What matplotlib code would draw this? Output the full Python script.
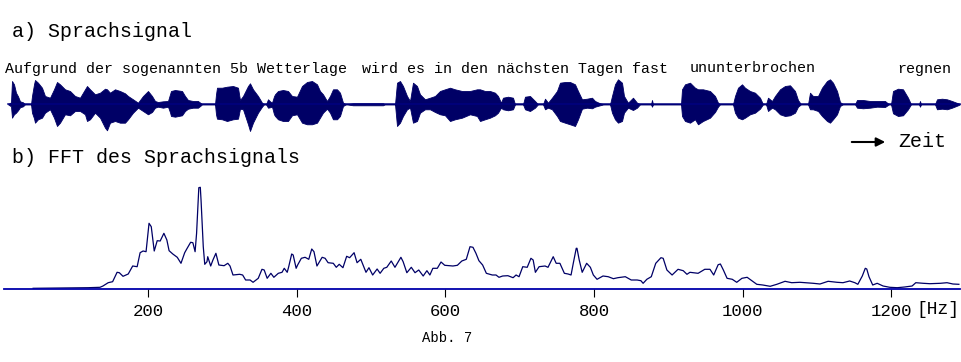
import matplotlib
matplotlib.use("Agg")
import matplotlib.pyplot as plt

# ---------------- data ----------------
# a) speech signal envelope (time in arbitrary units, amplitude upper / lower)
wave_t = [8, 11, 12, 14, 16, 18, 20, 23, 25, 31, 32, 34, 35, 38, 42, 45, 50, 54, 57, 60,
          65, 70, 75, 80, 85, 87, 90, 95, 100, 105, 107, 110, 115, 120, 125, 128, 133, 138, 143, 148,
          152, 155, 158, 163, 168, 170, 171, 175, 182, 185, 188, 193, 198, 201, 202, 215, 216, 217, 222, 227,
          233, 238, 240, 243, 248, 250, 253, 258, 262, 264, 266, 268, 270, 272, 274, 275, 278, 283, 288, 292,
          297, 302, 307, 312, 317, 320, 323, 327, 330, 333, 337, 340, 343, 346, 353, 383, 385, 395, 397, 400,
          403, 407, 410, 413, 417, 420, 425, 430, 435, 440, 445, 450, 455, 462, 470, 477, 480, 485, 490, 495,
          498, 501, 503, 508, 513, 515, 523, 525, 530, 535, 538, 543, 545, 548, 552, 557, 560, 565, 570, 575,
          578, 582, 587, 592, 595, 600, 604, 610, 612, 615, 618, 622, 624, 628, 633, 637, 640, 651, 652, 653,
          681, 682, 685, 690, 695, 698, 703, 710, 715, 718, 720, 733, 735, 738, 742, 745, 750, 755, 760, 763,
          766, 768, 772, 775, 780, 785, 790, 795, 798, 801, 808, 810, 813, 818, 822, 827, 830, 833, 837, 840,
          843, 855, 857, 863, 870, 877, 885, 889, 891, 893, 898, 903, 908, 911, 919, 920, 921, 935, 937, 942,
          947, 952, 958, 960]
wave_hi = [0, 2, 23.3, 20, 11.6, 8, 3, 2, 0, 0, 8.3, 20, 24.3, 21.6, 16.6, 8.3, 6.6, 15.0, 22.3, 20.0,
           15.0, 13.3, 8.3, 6.6, 15.0, 18.3, 15.0, 10.0, 11.6, 15.6, 15.0, 11.6, 15.0, 13.3, 11.0, 8.3, 5.0, 1.6, 8.3, 13.3,
           8.3, 3.3, 2.3, 3.0, 3.3, 10, 13.3, 14.3, 13.3, 8.3, 4.3, 3.3, 3.3, 1, 0, 0, 10, 16.6, 16.6, 17.6,
           18.3, 16.6, 4.3, 8.3, 18.3, 21.0, 15.0, 8.3, 1.6, 0, 0, 5.0, 3, 1.6, 8, 10.0, 13.3, 14.3, 13.3, 8.3,
           7.6, 18.3, 22.3, 23.3, 20.0, 13.3, 10.0, 3.3, 8.3, 15.0, 15.0, 11.6, 1.6, 0, 1.0, 1.0, 0, 0, 21.6, 23.3,
           18.3, 8.3, 3.3, 21.6, 18.3, 10.0, 5.0, 6.6, 8.3, 13.3, 15.0, 16.6, 15.0, 13.3, 13.3, 15.0, 15.0, 13.3, 13.3, 11.6,
           8.3, 1.6, 6.6, 7.6, 6.6, 0, 0, 7.6, 8.3, 3.3, 0, 0, 5.6, 1.6, 6.6, 13.3, 21.6, 22.3, 22.3, 20.0,
           13.3, 5.0, 5.6, 6.6, 3.3, 1.0, 0, 0, 8.3, 20.0, 25.0, 21.6, 8.3, 1.6, 6.6, 1.6, 0, 0, 4.3, 0,
           0, 15.0, 20.0, 21.6, 16.6, 15.0, 15.0, 13.3, 8.3, 1.6, 0, 0, 8.3, 16.6, 20.0, 16.6, 13.3, 11.6, 6.6, 0,
           0, 6.6, 3.3, 8.3, 15.0, 18.3, 19.0, 13.3, 4.3, 0, 0, 11.6, 8.3, 8.3, 16.6, 23.3, 25.0, 21.6, 13.3, 2.3,
           0, 0, 4.3, 4.3, 3.3, 3.3, 3.3, 0, 0, 13.3, 15.6, 15.0, 6.6, 0, 0, 3.3, 0, 0, 5.0, 5.6,
           5.0, 3.3, 1.0, 0]
wave_lo = [0, -2, -13.4, -10, -8.4, -6, -3, -2, 0, 0, -8.4, -14, -18.4, -15.0, -13.4, -8.4, -5.0, -13.4, -21.7, -18.4,
           -10.0, -11.0, -6.7, -6.7, -10.0, -16.7, -15.0, -8.4, -13.4, -23.4, -26.0, -18.4, -16.7, -18.4, -18.4, -15.0, -8.4, -3.4, -6.7, -10.0,
           -7.7, -3.4, -2.4, -3.4, -2.4, -8, -11.7, -12.4, -11.0, -6.7, -4.4, -3.4, -3.4, -1, 0, 0, -10, -14.4, -15.0, -16.7,
           -15.0, -14.4, -4.4, -5.0, -20.0, -26.7, -18.4, -8.4, -2.4, 0, 0, -3.4, -3, -2.4, -10, -11.7, -15.0, -16.7, -16.7, -11.0,
           -10.0, -18.4, -20.0, -20.0, -18.4, -13.4, -8.4, -4.4, -8.4, -15.0, -15.0, -11.7, -1.7, 0, -1.0, -1.0, 0, 0, -21.7, -18.4,
           -11.7, -5.0, -3.4, -18.4, -16.7, -8.4, -5.0, -5.0, -7.7, -10.0, -11.0, -16.7, -15.0, -13.4, -10.0, -11.7, -16.7, -15.0, -13.4, -11.0,
           -8.4, -3.4, -5.0, -6.0, -5.0, 0, 0, -5.0, -6.7, -3.4, 0, 0, -5.0, -3.4, -5.0, -11.7, -16.7, -18.4, -20.0, -21.7,
           -15.0, -4.4, -3.4, -4.0, -2.4, -1.0, 0, 0, -8.4, -15.0, -18.4, -16.7, -8.4, -3.4, -5.7, -3.4, 0, 0, -2.4, 0,
           0, -11.7, -16.7, -18.4, -15.0, -20.0, -16.7, -13.4, -7.7, -2.4, 0, 0, -8.4, -13.4, -15.0, -13.4, -10.0, -8.4, -4.4, 0,
           0, -6.7, -3.4, -5.0, -10.0, -11.7, -11.0, -8.4, -2.4, 0, 0, -5.0, -5.0, -6.7, -11.7, -16.7, -18.4, -15.0, -10.0, -1.7,
           0, 0, -3.4, -4.0, -3.4, -2.4, -2.7, 0, 0, -9.0, -11.7, -11.0, -5.0, 0, 0, -2.4, 0, 0, -5.0, -4.4,
           -5.0, -3.4, -1.0, 0]

# b) FFT magnitude spectrum
freq_hz = [45, 119, 135, 139, 146, 152, 158, 161, 166, 173, 179, 185, 189, 193, 197, 201, 204, 208, 212, 216,
           221, 225, 228, 233, 239, 244, 249, 252, 257, 260, 263, 265, 268, 270, 271, 274, 276, 279, 280, 284,
           287, 291, 295, 302, 307, 310, 314, 323, 327, 331, 337, 341, 348, 353, 356, 360, 365, 369, 375, 380,
           383, 387, 389, 393, 395, 399, 401, 406, 411, 416, 420, 423, 427, 434, 438, 442, 449, 453, 457, 462,
           467, 471, 477, 481, 486, 493, 497, 502, 508, 512, 517, 521, 527, 532, 540, 543, 548, 554, 559, 564,
           570, 575, 579, 583, 589, 594, 599, 610, 616, 622, 628, 633, 637, 641, 645, 650, 655, 663, 668, 672,
           677, 684, 691, 695, 699, 704, 710, 715, 718, 721, 726, 734, 738, 745, 749, 754, 760, 765, 769, 772,
           776, 777, 780, 784, 790, 795, 799, 804, 812, 819, 826, 832, 842, 850, 858, 863, 866, 871, 877, 883,
           890, 893, 898, 905, 913, 920, 925, 929, 940, 949, 956, 961, 967, 970, 974, 979, 986, 992, 999, 1006,
           1011, 1019, 1027, 1037, 1046, 1057, 1066, 1077, 1095, 1104, 1115, 1127, 1135, 1144, 1151, 1155, 1161, 1165, 1167, 1170,
           1175, 1181, 1189, 1198, 1208, 1218, 1228, 1233, 1243, 1252, 1266, 1275, 1283, 1291]
magnitude = [0.7, 1.3, 1.7, 3, 6.3, 7.3, 16.7, 16.3, 12.7, 15, 23, 22.3, 36.3, 38, 37.3, 65.7, 62.3, 38, 48.3, 48,
             55.7, 49, 38.3, 35, 31.7, 25.7, 36.3, 40.3, 46.7, 46.3, 37.3, 55.7, 101.3, 101.7, 89, 42.3, 24.7, 27.3, 32.3, 23,
             29, 35.7, 24, 23.3, 25.7, 23, 14, 14.7, 14, 9, 9, 6.7, 10.7, 19.7, 19, 10.7, 15.7, 11.7, 15.7, 16.7,
             20.7, 16.7, 22.3, 35, 34, 20.7, 24, 30.7, 31.7, 29.7, 40, 37.3, 23, 31.7, 30.7, 26.3, 25.7, 21.7, 24.7, 21.3,
             32.7, 31.3, 36.3, 26.3, 29.7, 16.7, 21.3, 14, 20, 15.7, 20.7, 21.7, 28, 21.7, 31.7, 27.3, 16.3, 21.7, 16.3, 19,
             13, 18.3, 14, 20.7, 20.7, 27, 23.7, 23, 23.7, 28, 29.7, 42.3, 41.7, 35.7, 28.3, 24, 15.7, 14, 14, 11.7,
             13, 13.3, 11.3, 14, 12.3, 22.3, 21.7, 30.7, 29, 16.7, 22.3, 23, 21.7, 32.3, 25.7, 25.7, 15.7, 15, 14, 25.7,
             40.7, 40.7, 29, 16.7, 25.7, 21.7, 14, 9.7, 13, 12.3, 10.3, 11.3, 12.3, 9, 9, 8.3, 5.7, 9.7, 12.3, 25.7,
             31.3, 30.7, 19, 14, 19.7, 18.3, 14.7, 16.7, 15.7, 19.7, 19.7, 14, 24.3, 25, 19, 10.7, 9.7, 6.7, 10.7, 11.7,
             9, 4.7, 4, 2.7, 4.7, 7.7, 6.3, 6.7, 5.7, 5, 7.7, 6.7, 6.3, 8, 6.3, 4.7, 13, 20.7, 20, 12.3,
             4, 5.7, 3, 1.7, 1.3, 2, 3, 6.3, 5.7, 5.3, 5.7, 6.3, 5, 4.7]

tick_hz = [200, 400, 600, 800, 1000, 1200]
tick_labels = ["200", "400", "600", "800", "1000", "1200"]

sentence_words = ["Aufgrund der sogenannten 5b Wetterlage",
                  "wird es in den nächsten Tagen fast",
                  "ununterbrochen", "regnen"]

# ---------------- figure ----------------
W, H = 961, 362
fig = plt.figure(figsize=(W / 100, H / 100), dpi=100)
MONO = ["Liberation Mono", "DejaVu Sans Mono"]
NAVY = "#000066"

def fx(x):
    return x / W

def fy(y):
    return 1 - y / H

# waveform axes
axw = fig.add_axes([0, fy(140), 1, 70 / H])
axw.set_xlim(0, 961)
axw.set_ylim(-35.7, 34.3)
axw.axis("off")
axw.plot([wave_t[0], wave_t[-1]], [0, 0], color="#000080", lw=1.1)
axw.fill_between(wave_t, wave_lo, wave_hi, color=NAVY, lw=0.6, edgecolor=NAVY)

# spectrum axes
axs = fig.add_axes([fx(4), fy(289), fx(956), 114 / H])
axs.set_xlim(5.8, 1292.5)
axs.set_ylim(0, 114)
axs.plot(freq_hz, magnitude, color=NAVY, lw=0.9)
for s in ["top", "right", "left"]:
    axs.spines[s].set_visible(False)
axs.spines["bottom"].set_color("#0000AA")
axs.spines["bottom"].set_linewidth(1.3)
axs.set_yticks([])
axs.set_xticks(tick_hz)
axs.set_xticklabels(tick_labels, family=MONO, fontsize=12.5)
axs.tick_params(axis="x", direction="out", length=5.8, width=0.8, color="black", pad=5)
axs.patch.set_alpha(0)

# texts
fig.text(fx(12), fy(37.3), "a) Sprachsignal", family=MONO, fontsize=14.4, va="baseline", ha="left")
fig.text(fx(12), fy(163), "b) FFT des Sprachsignals", family=MONO, fontsize=14.4, va="baseline", ha="left")
word_x = [5, 362, 690, 897]
for wx, w in zip(word_x, sentence_words):
    fig.text(fx(wx), fy(72.5), w, family=MONO, fontsize=10.8, va="baseline", ha="left")
fig.text(fx(898), fy(147), "Zeit", family=MONO, fontsize=14.4, va="baseline", ha="left")
fig.add_artist(matplotlib.patches.FancyArrowPatch((fx(849), fy(142)), (fx(888), fy(142)),
                                                  transform=fig.transFigure, arrowstyle="-|>",
                                                  mutation_scale=13, color="black", lw=1.5))
fig.text(fx(916), fy(309), "[Hz]", family=MONO, fontsize=13, va="center", ha="left")
fig.text(fx(447), fy(338), "Abb. 7", family=MONO, fontsize=10, va="center", ha="center")

fig.savefig("out.png", dpi=100, facecolor="white")
